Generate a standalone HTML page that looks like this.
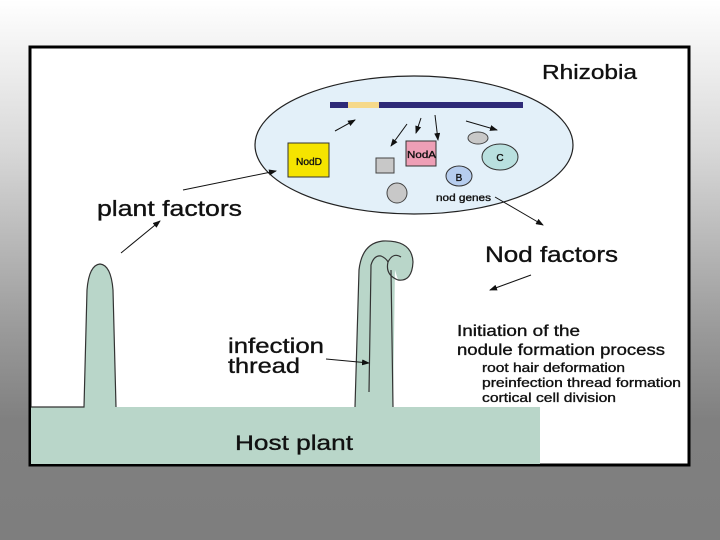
<!DOCTYPE html>
<html><head><style>
html,body{margin:0;padding:0;width:720px;height:540px;overflow:hidden}
body{background:linear-gradient(#ffffff 0px,#d8d8d8 150px,#9a9a9a 330px,#808080 420px,#7e7e7e 540px)}
svg{position:absolute;left:0;top:0}
text{font-family:"Liberation Sans",sans-serif;fill:#111;stroke:#111;stroke-width:0.35}
</style></head><body>
<svg width="720" height="540" viewBox="0 0 720 540">
<defs><marker id="a" markerWidth="8" markerHeight="6" refX="7" refY="3" orient="auto" markerUnits="userSpaceOnUse"><path d="M0,0 L8,3 L0,6z" fill="#111"/></marker></defs>
<rect x="30" y="47" width="659" height="418" fill="#fff" stroke="#000" stroke-width="3"/>
<path d="M31,407 L84,407 L87,290 Q89,265 100,264 Q111,265 113,290 L116,407 L355,407 L359,270 Q362,243 383,241 Q412,240 413,262 Q412,282 398,280 L395,270 L393,407 L540,407 L540,464 L31,464 Z" fill="#b9d6c9"/>
<path d="M31,407 L84,407 L87,290 Q89,265 100,264 Q111,265 113,290 L116,407 M355,407 L359,270 Q362,243 383,241 Q412,240 413,262 Q412,282 398,280 Q385,275 388,262 Q393,252 401,257 M393,407 L391,270" fill="none" stroke="#333" stroke-width="1.2"/>
<path d="M369,392 L371,265 Q374,255 381,256 Q386,258 388,262" fill="none" stroke="#333" stroke-width="1.2"/>
<ellipse cx="414" cy="145" rx="159" ry="69" fill="#e3f0f9" stroke="#222" stroke-width="1.2"/>
<rect x="330" y="102" width="193" height="6" fill="#2e2a78"/>
<rect x="348" y="102" width="31" height="6" fill="#f6d98a"/>
<rect x="288" y="143" width="41" height="34" fill="#f5e400" stroke="#333"/>
<text x="296" y="165" font-size="10" textLength="26" lengthAdjust="spacingAndGlyphs">NodD</text>
<rect x="406" y="141" width="30" height="25" fill="#ee9fb6" stroke="#333"/>
<text x="407" y="158" font-size="10" textLength="29" lengthAdjust="spacingAndGlyphs">NodA</text>
<rect x="376" y="158" width="18" height="15" fill="#c8c8c8" stroke="#444"/>
<circle cx="397" cy="193" r="10" fill="#c8c8c8" stroke="#444"/>
<ellipse cx="478" cy="138" rx="10" ry="6" fill="#c8c8c8" stroke="#444"/>
<ellipse cx="500" cy="157" rx="18" ry="13" fill="#b9e0df" stroke="#333"/>
<text x="500" y="161" font-size="10" text-anchor="middle">C</text>
<ellipse cx="459" cy="176" rx="13" ry="10" fill="#b6cdee" stroke="#333"/>
<text x="459" y="181" font-size="10" text-anchor="middle">B</text>
<text x="436" y="201" font-size="10" textLength="55" lengthAdjust="spacingAndGlyphs">nod genes</text>
<g stroke="#111" stroke-width="1" fill="none" marker-end="url(#a)">
<line x1="335" y1="131" x2="355" y2="120"/>
<line x1="407" y1="124" x2="391" y2="146"/>
<line x1="421" y1="118" x2="416" y2="133"/>
<line x1="435" y1="115" x2="438" y2="140"/>
<line x1="466" y1="121" x2="497" y2="130"/>
<line x1="495" y1="197" x2="543" y2="225"/>
<line x1="183" y1="190" x2="276" y2="171"/>
<line x1="121" y1="253" x2="160" y2="221"/>
<line x1="531" y1="275" x2="490" y2="290"/>
<line x1="326" y1="359" x2="369" y2="363"/>
</g>
<text x="542" y="79" font-size="20" textLength="95" lengthAdjust="spacingAndGlyphs">Rhizobia</text>
<text x="97" y="216" font-size="22" textLength="145" lengthAdjust="spacingAndGlyphs">plant factors</text>
<text x="485" y="262" font-size="22" textLength="133" lengthAdjust="spacingAndGlyphs">Nod factors</text>
<text x="228" y="353" font-size="21" textLength="96" lengthAdjust="spacingAndGlyphs">infection</text>
<text x="228" y="373" font-size="21" textLength="72" lengthAdjust="spacingAndGlyphs">thread</text>
<text x="235" y="450" font-size="21" textLength="118" lengthAdjust="spacingAndGlyphs">Host plant</text>
<text x="457" y="336" font-size="15.5" textLength="123" lengthAdjust="spacingAndGlyphs">Initiation of the</text>
<text x="457" y="355" font-size="15.5" textLength="208" lengthAdjust="spacingAndGlyphs">nodule formation process</text>
<text x="482" y="372" font-size="13" textLength="143" lengthAdjust="spacingAndGlyphs">root hair deformation</text>
<text x="482" y="387" font-size="13" textLength="199" lengthAdjust="spacingAndGlyphs">preinfection thread formation</text>
<text x="482" y="402" font-size="13" textLength="134" lengthAdjust="spacingAndGlyphs">cortical cell division</text>
</svg>
</body></html>
